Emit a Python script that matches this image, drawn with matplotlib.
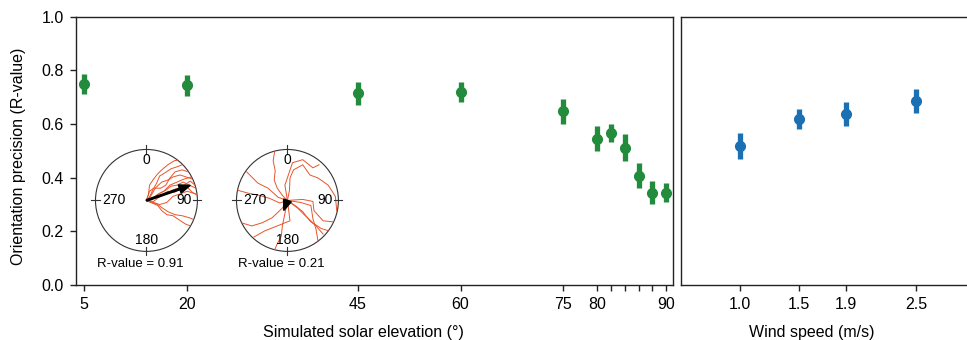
import matplotlib.pyplot as plt
import numpy as np
from matplotlib.patches import Circle, FancyArrow

plt.rcParams["font.family"] = ["Liberation Sans", "DejaVu Sans"]

# Data
elevation = [5, 20, 45, 60, 75, 80, 82, 84, 86, 88, 90]
r_elev = [0.749, 0.744, 0.715, 0.719, 0.647, 0.545, 0.567, 0.512, 0.408, 0.344, 0.344]
err_elev = [0.038, 0.040, 0.043, 0.038, 0.048, 0.046, 0.034, 0.049, 0.047, 0.042, 0.035]
elev_labeled = [5, 20, 45, 60, 75, 80, 90]
elev_minor = [82, 84, 86, 88]

wind = [1.0, 1.5, 1.9, 2.5]
r_wind = [0.519, 0.618, 0.638, 0.685]
err_wind = [0.048, 0.038, 0.045, 0.045]
wind_labels = ["1.0", "1.5", "1.9", "2.5"]

y_ticks = [0.0, 0.2, 0.4, 0.6, 0.8, 1.0]

# inset examples: mean heading (deg, clockwise from north) and R-value
inset_heading = [71, 200]
inset_r = [0.91, 0.21]

# inset tracks, unit-circle coords (x right, y up), traced by eye
tracks_good = [
    [(0, 0), (0.04, 0.12), (0.06, 0.3), (0.14, 0.42), (0.22, 0.52), (0.3, 0.6), (0.42, 0.7), (0.55, 0.78), (0.62, 0.79)],
    [(0, 0), (0.08, 0.08), (0.18, 0.25), (0.3, 0.36), (0.42, 0.4), (0.52, 0.46), (0.66, 0.5), (0.78, 0.46), (0.9, 0.42)],
    [(0, 0), (0.12, 0.04), (0.26, 0.14), (0.38, 0.2), (0.48, 0.28), (0.6, 0.3), (0.72, 0.36), (0.84, 0.3), (0.97, 0.24)],
    [(0, 0), (0.16, 0.06), (0.3, 0.1), (0.42, 0.18), (0.55, 0.16), (0.66, 0.22), (0.8, 0.26), (0.9, 0.16), (1.0, 0.1)],
    [(0, 0), (0.1, -0.04), (0.26, -0.08), (0.4, -0.04), (0.52, 0.08), (0.64, 0.12), (0.8, 0.18), (0.99, 0.12)],
    [(0, 0), (0.2, -0.06), (0.3, -0.14), (0.42, -0.22), (0.56, -0.28), (0.7, -0.3), (0.84, -0.34), (0.94, -0.38)],
    [(0, 0), (0.22, -0.1), (0.3, -0.2), (0.4, -0.28), (0.52, -0.3), (0.64, -0.38), (0.76, -0.46), (0.86, -0.5)],
    [(0, 0), (0.06, 0.18), (0.14, 0.24), (0.28, 0.24), (0.38, 0.3), (0.46, 0.44), (0.56, 0.56), (0.7, 0.6), (0.82, 0.56)],
    [(0, 0), (0.1, 0.02), (0.22, 0.12), (0.34, 0.18), (0.46, 0.3), (0.6, 0.36), (0.74, 0.42), (0.88, 0.46)],
    [(0, 0), (0.14, -0.02), (0.24, 0.06), (0.36, 0.12), (0.5, 0.2), (0.62, 0.24), (0.74, 0.3), (0.86, 0.38), (0.95, 0.3)],
    [(0, 0), (0.06, 0.06), (0.12, 0.2), (0.2, 0.34), (0.26, 0.48), (0.36, 0.54), (0.48, 0.62), (0.6, 0.66), (0.7, 0.7)],
]
tracks_poor = [
    [(0, 0), (-0.1, 0.1), (-0.2, 0.24), (-0.26, 0.4), (-0.24, 0.58), (-0.28, 0.78), (-0.25, 0.97)],
    [(0, 0), (0.04, 0.2), (0.05, 0.44), (0.12, 0.6), (0.3, 0.7), (0.44, 0.5), (0.6, 0.44), (0.8, 0.3), (0.94, 0.08), (0.97, -0.22)],
    [(0, 0), (-0.18, 0.06), (-0.38, 0.24), (-0.58, 0.34), (-0.8, 0.56)],
    [(0, 0), (-0.15, -0.05), (-0.35, 0.04), (-0.55, 0.1), (-0.76, 0.14), (-0.98, 0.2)],
    [(0, 0), (-0.1, -0.15), (-0.3, -0.34), (-0.5, -0.44), (-0.7, -0.5), (-0.9, -0.44)],
    [(0, 0), (-0.05, -0.26), (-0.1, -0.5), (-0.12, -0.7), (-0.2, -0.85), (-0.25, -0.97)],
    [(0, 0), (0.2, -0.15), (0.35, -0.3), (0.5, -0.44), (0.66, -0.55), (0.82, -0.6)],
    [(0, 0), (0.15, -0.1), (0.3, -0.22), (0.44, -0.4), (0.56, -0.5), (0.7, -0.66)],
    [(0, 0), (0.26, -0.04), (0.46, -0.1), (0.5, -0.36), (0.56, -0.56), (0.6, -0.8)],
    [(0, 0), (0.05, -0.4), (-0.2, -0.5), (-0.45, -0.6), (-0.66, -0.72)],
    [(0, 0), (-0.05, 0.3), (0.1, 0.74), (0.3, 0.8), (0.5, 0.64), (0.62, 0.7)],
    [(0, 0), (0.3, 0.02), (0.5, -0.02), (0.52, -0.2), (0.7, -0.4), (0.9, -0.42)],
]

green = "#228b3c"
blue = "#1a70b2"
track_col = "#e8552b"

fig = plt.figure(figsize=(9.67, 3.4), dpi=100)
ax1 = fig.add_axes([0.0786, 0.1618, 0.6171, 0.7891])
ax2 = fig.add_axes([0.7046, 0.1618, 0.3037, 0.7891])

for ax in (ax1, ax2):
    ax.set_ylim(0, 1)
    for s in ax.spines.values():
        s.set_linewidth(1.0)
        s.set_color("#222222")
    ax.tick_params(direction="out", length=4.5, width=1.0, labelsize=11.5,
                   color="#222222", pad=4.5)

# Left panel: solar elevation
ax1.errorbar(elevation, r_elev, yerr=err_elev, fmt="o", color=green, ms=7,
             elinewidth=3.8, capsize=0)
ax1.set_xlim(3.8, 91)
ax1.set_xticks(elev_labeled)
ax1.set_xticks(elev_minor, minor=True)
ax1.tick_params(axis="x", which="minor", length=4.5, width=1.0, color="#222222")
ax1.set_yticks(y_ticks)
ax1.set_yticklabels([f"{v:.1f}" for v in y_ticks])
ax1.set_xlabel("Simulated solar elevation (°)", fontsize=11.5)
ax1.xaxis.set_label_coords(0.482, -0.15)
ax1.set_ylabel("Orientation precision (R-value)", fontsize=11.5)
ax1.yaxis.set_label_coords(-0.084, 0.48)

# Right panel: wind speed
ax2.errorbar(wind, r_wind, yerr=err_wind, fmt="o", color=blue, ms=7,
             elinewidth=3.8, capsize=0)
ax2.set_xlim(0.5, 3.0)
ax2.set_xticks(wind)
ax2.set_xticklabels(wind_labels)
ax2.set_yticks([])
ax2.spines["right"].set_visible(False)
ax2.set_xlabel("Wind speed (m/s)", fontsize=11.5)
ax2.xaxis.set_label_coords(0.445, -0.15)


def draw_inset(rect, tracks, angle_deg, r_val, head_w, head_l, width):
    ax = fig.add_axes(rect)
    ax.set_xlim(-1.02, 1.02)
    ax.set_ylim(-1.02, 1.02)
    ax.set_aspect("equal")
    ax.axis("off")
    circ = Circle((0, 0), 1.0, fill=False, ec="#333333", lw=0.8)
    ax.add_patch(circ)
    clip = Circle((0, 0), 1.0, transform=ax.transData)
    for tr in tracks:
        pts = np.array(tr)
        ln, = ax.plot(pts[:, 0], pts[:, 1], color=track_col, lw=0.7)
        ln.set_clip_path(clip)
    # cardinal ticks
    for a in (0, 90, 180, 270):
        t = np.deg2rad(a)
        ax.plot([0.92 * np.sin(t), 1.08 * np.sin(t)], [0.92 * np.cos(t), 1.08 * np.cos(t)],
                color="#333333", lw=0.8, clip_on=False)
    ax.text(0, 0.79, "0", ha="center", va="center", fontsize=10)
    ax.text(0.74, 0.0, "90", ha="center", va="center", fontsize=10)
    ax.text(0, -0.78, "180", ha="center", va="center", fontsize=10)
    ax.text(-0.64, 0.0, "270", ha="center", va="center", fontsize=10)
    t = np.deg2rad(angle_deg)
    dx, dy = r_val * np.sin(t), r_val * np.cos(t)
    ax.add_patch(FancyArrow(0, 0, dx, dy, width=width, head_width=head_w,
                            head_length=min(head_l, r_val), length_includes_head=True,
                            color="black", zorder=5))
    ax.text(-0.12, -1.24, f"R-value = {r_val:.2f}", ha="center", va="center",
            fontsize=9.5, clip_on=False)


draw_inset([0.0977, 0.256, 0.1075, 0.309], tracks_good, inset_heading[0], inset_r[0], 0.17, 0.22, 0.03)
draw_inset([0.2435, 0.256, 0.1075, 0.309], tracks_poor, inset_heading[1], inset_r[1], 0.16, 0.25, 0.03)

plt.savefig("out.png", dpi=100)
plt.close(fig)
